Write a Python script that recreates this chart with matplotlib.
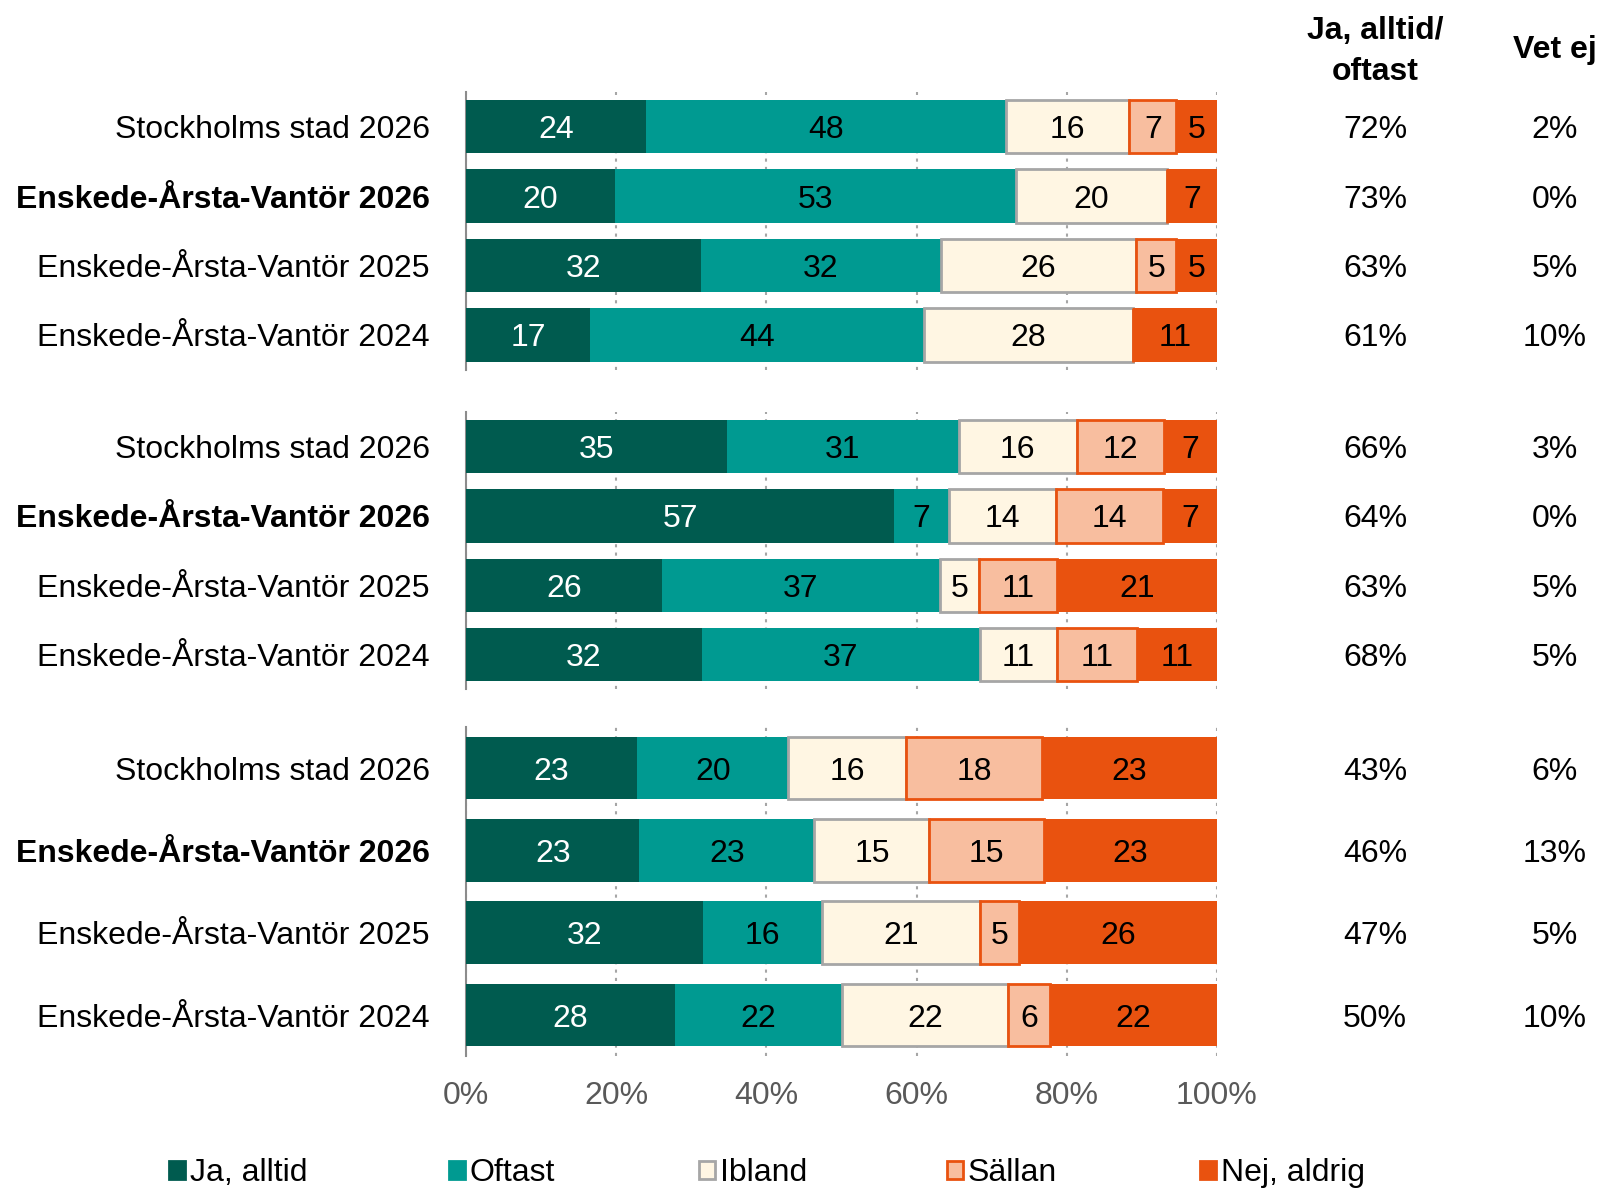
import numpy as np
import matplotlib
matplotlib.use("Agg")
import matplotlib.pyplot as plt
from matplotlib.patches import Patch
from matplotlib.transforms import blended_transform_factory

plt.rcParams['font.family'] = ['Liberation Sans', 'DejaVu Sans']

categories = ["Ja, alltid", "Oftast", "Ibland", "Sällan", "Nej, aldrig"]
row_labels = ["Stockholms stad 2026", "Enskede-Årsta-Vantör 2026",
              "Enskede-Årsta-Vantör 2025", "Enskede-Årsta-Vantör 2024"]
bold_row = 1

# group 1
g1_values = [[24, 48, 16, 7, 5],
             [20, 53, 20, 0, 7],
             [32, 32, 26, 5, 5],
             [17, 44, 28, 0, 11]]
g1_widths = [[24.0, 47.9, 16.4, 6.3, 5.4],
             [19.8, 53.4, 20.1, 0, 6.7],
             [31.3, 31.9, 26.0, 5.4, 5.4],
             [16.5, 44.5, 27.8, 0, 11.2]]
g1_yes = [72, 73, 63, 61]
g1_dontknow = [2, 0, 5, 10]

# group 2
g2_values = [[35, 31, 16, 12, 7],
             [57, 7, 14, 14, 7],
             [26, 37, 5, 11, 21],
             [32, 37, 11, 11, 11]]
g2_widths = [[34.8, 30.8, 15.7, 11.7, 7.0],
             [57.0, 7.3, 14.3, 14.2, 7.2],
             [26.1, 37.0, 5.2, 10.4, 21.3],
             [31.4, 37.0, 10.3, 10.6, 10.7]]
g2_yes = [66, 64, 63, 68]
g2_dontknow = [3, 0, 5, 5]

# group 3
g3_values = [[23, 20, 16, 18, 23],
             [23, 23, 15, 15, 23],
             [32, 16, 21, 5, 26],
             [28, 22, 22, 6, 22]]
g3_widths = [[22.8, 20.1, 15.7, 18.1, 23.3],
             [23.1, 23.3, 15.3, 15.3, 23.0],
             [31.5, 15.9, 21.0, 5.3, 26.3],
             [27.8, 22.3, 22.1, 5.5, 22.3]]
g3_yes = [43, 46, 47, 50]
g3_dontknow = [6, 13, 5, 10]

colors = ['#005B4F', '#009A91', '#FFF6E3', '#F8BE9F', '#E9520F']
edges = ['none', 'none', '#A6A6A6', '#E9520F', 'none']
txtcol = ['white', 'black', 'black', 'black', 'black']

W, H = 1606, 1188
FS = 23
fig = plt.figure(figsize=(W / 100, H / 100), dpi=100)

# pixel layout: (top, pitch, bar height fraction)
layout = [(92, 69.4, 0.77), (412, 69.3, 0.77), (727, 82.3, 0.76)]
x0, x1 = 466, 1217

groups = [(g1_values, g1_widths, g1_yes, g1_dontknow),
          (g2_values, g2_widths, g2_yes, g2_dontknow),
          (g3_values, g3_widths, g3_yes, g3_dontknow)]

for gi, ((vals, widths, yes, dk), (top, pitch, bh)) in enumerate(zip(groups, layout)):
    n = len(vals)
    ax = fig.add_axes([x0 / W, 1 - (top + n * pitch) / H,
                       (x1 - x0) / W, n * pitch / H])
    vals = np.array(vals)
    widths = np.array(widths, dtype=float)
    y = np.arange(n)
    left = np.zeros(n)
    for k in range(len(categories)):
        w = widths[:, k]
        lw = 2 if edges[k] != 'none' else 0
        ax.barh(y, w, left=left, height=bh, color=colors[k],
                edgecolor=edges[k], linewidth=lw, zorder=3)
        for yi, (l, ww, v) in enumerate(zip(left, w, vals[:, k])):
            if v > 0:
                ax.text(l + ww / 2, yi, str(v), ha='center', va='center_baseline',
                        color=txtcol[k], fontsize=FS, zorder=4)
        left = left + w

    ax.set_xlim(0, 100)
    ax.set_ylim(n - 0.5, -0.5)
    ax.set_yticks(y)
    ax.set_yticklabels(row_labels, fontsize=FS)
    ax.get_yticklabels()[bold_row].set_fontweight('bold')
    ax.tick_params(axis='y', length=0, pad=26)
    ax.set_xticks(np.arange(0, 101, 20))
    ax.xaxis.grid(True, linestyle=(0, (1.5, 2.5)), color='#A6A6A6', linewidth=1.5, zorder=0)
    ax.set_axisbelow(True)
    ax.tick_params(axis='x', length=0)
    if gi == 2:
        ax.set_xticklabels([f"{t}%" for t in range(0, 101, 20)],
                           fontsize=FS, color='#595959')
        ax.tick_params(axis='x', pad=18)
    else:
        ax.set_xticklabels([])
    for s in ['top', 'right', 'bottom']:
        ax.spines[s].set_visible(False)
    ax.spines['left'].set_color('#8C8C8C')
    ax.spines['left'].set_linewidth(1.5)

    tr = blended_transform_factory(fig.transFigure, ax.transData)
    for yi in y:
        ax.text(1375 / W, yi, f"{yes[yi]}%", transform=tr, ha='center',
                va='center_baseline', fontsize=FS, clip_on=False)
        ax.text(1555 / W, yi, f"{dk[yi]}%", transform=tr, ha='center',
                va='center_baseline', fontsize=FS, clip_on=False)

# column headers
fig.text(1375 / W, 1 - 31 / H, "Ja, alltid/", ha='center', va='center',
         fontsize=FS, fontweight='bold')
fig.text(1375 / W, 1 - 72 / H, "oftast", ha='center', va='center',
         fontsize=FS, fontweight='bold')
fig.text(1555 / W, 1 - 50 / H, "Vet ej", ha='center', va='center',
         fontsize=FS, fontweight='bold')

# legend, one entry each so they sit where the original has them
leg_x = [169, 449, 699, 947, 1200]
for k, cat in enumerate(categories):
    ec = edges[k] if edges[k] != 'none' else colors[k]
    h = Patch(facecolor=colors[k], edgecolor=ec, linewidth=2)
    fig.legend(handles=[h], labels=[cat], loc='center left',
               bbox_to_anchor=(leg_x[k] / W, 1 - 1173 / H), frameon=False,
               fontsize=FS, handlelength=0.5, handleheight=0.5,
               handletextpad=0.15, borderpad=0, borderaxespad=0)

fig.savefig("out.png", dpi=100)
